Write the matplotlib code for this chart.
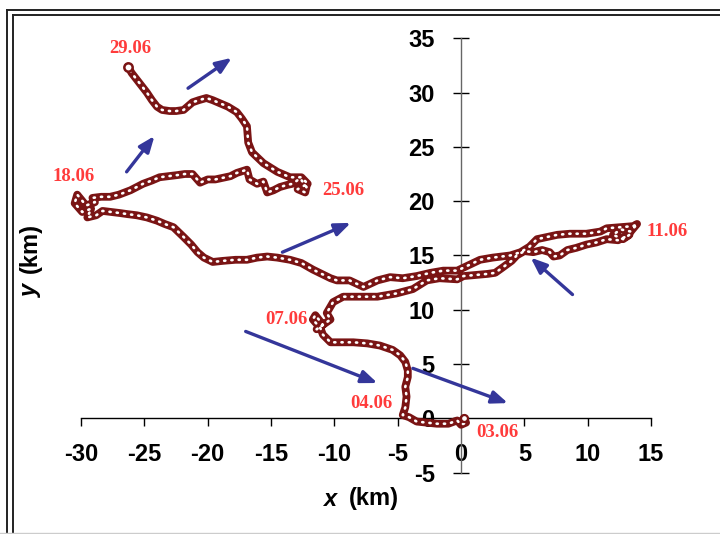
import matplotlib
matplotlib.use("Agg")
import matplotlib.pyplot as plt
from matplotlib.lines import Line2D

# ---- data (km) ----
track_x = [0.2, 0.4, 0.0, -0.3, -1.0, -1.9, -2.7, -3.5, -4.1, -4.6,
           -4.4, -4.3, -4.4, -4.2, -4.2, -4.4, -4.8, -5.4, -6.4, -7.4,
           -8.5, -9.6, -10.3, -10.9, -11.1, -11.7, -11.5, -10.9, -11.4, -10.3,
           -10.6, -10.3, -10.1, -9.3, -8.0, -6.6, -5.1, -3.8, -2.7, -1.7,
           -0.3, 0.2, 1.2, 2.1, 2.7, 3.3, 4.0, 4.4, 5.0, 5.7,
           6.4, 7.0, 7.3, 7.8, 8.4, 9.1, 9.9, 10.7, 11.5, 12.4,
           13.3, 12.8, 12.0, 12.6, 13.4, 13.9, 13.6, 12.6, 11.5, 11.0,
           9.9, 8.6, 7.6, 6.8, 6.0, 5.4, 4.7, 3.9, 2.5, 1.5,
           0.6, -0.3, -1.4, -2.4, -3.5, -4.6, -5.6, -6.6, -7.7, -8.8,
           -9.8, -10.3, -11.0, -11.7, -12.6, -13.5, -14.5, -15.3, -16.1, -16.9,
           -17.8, -18.8, -19.6, -20.3, -20.8, -21.3, -21.9, -22.7, -23.4, -24.0,
           -24.8, -25.6, -26.3, -26.9, -27.6, -28.3, -28.8, -29.5, -29.2, -29.9,
           -30.5, -30.3, -29.6, -28.9, -29.1, -28.4, -27.7, -27.0, -26.1, -25.6,
           -25.1, -24.4, -23.8, -23.1, -22.4, -21.8, -21.2, -20.6, -20.0, -19.4,
           -19.0, -18.2, -17.7, -16.9, -16.7, -16.1, -15.6, -15.3, -14.8, -14.3,
           -13.7, -13.3, -12.7, -12.2, -12.3, -12.9, -12.1, -12.6, -13.5, -14.5,
           -15.6, -16.5, -16.8, -16.9, -17.3, -17.7, -18.4, -19.0, -19.6, -20.1,
           -20.7, -21.2, -21.6, -21.9, -22.5, -23.0, -23.6, -24.0, -24.4, -24.8,
           -25.2, -25.6, -26.0, -26.3]
track_y = [0.0, -0.4, -0.6, -0.2, -0.5, -0.5, -0.4, -0.3, 0.1, 0.3,
           1.0, 2.0, 2.9, 3.8, 4.4, 5.2, 5.8, 6.3, 6.7, 6.9,
           7.0, 7.0, 7.0, 7.7, 8.3, 9.1, 9.5, 8.6, 8.2, 9.1,
           9.7, 10.3, 10.7, 11.2, 11.2, 11.2, 11.5, 11.9, 12.7, 12.9,
           12.8, 13.1, 13.2, 13.3, 13.4, 13.9, 14.5, 15.0, 15.4, 15.3,
           15.5, 15.3, 14.9, 15.0, 15.5, 15.7, 16.0, 16.2, 16.5, 16.4,
           16.9, 16.5, 16.9, 17.4, 17.2, 17.9, 17.7, 17.6, 17.5, 17.2,
           17.0, 17.0, 16.9, 16.7, 16.5, 15.8, 15.3, 15.0, 14.8, 14.6,
           14.1, 13.6, 13.6, 13.4, 13.1, 12.9, 13.0, 12.7, 12.1, 12.7,
           12.7, 12.9, 13.3, 13.7, 14.3, 14.6, 14.8, 14.9, 14.8, 14.6,
           14.6, 14.5, 14.4, 14.8, 15.3, 16.0, 16.7, 17.6, 17.9, 18.2,
           18.5, 18.7, 18.8, 18.9, 19.0, 19.1, 18.7, 18.5, 19.3, 19.0,
           19.8, 20.6, 19.6, 19.9, 20.3, 20.4, 20.4, 20.6, 21.0, 21.3,
           21.6, 21.9, 22.2, 22.3, 22.4, 22.5, 22.5, 21.7, 22.0, 22.0,
           22.1, 22.3, 22.6, 22.9, 22.0, 21.6, 21.8, 20.8, 21.0, 21.3,
           21.5, 21.6, 22.1, 21.3, 20.8, 21.1, 21.6, 22.2, 22.2, 22.7,
           23.5, 24.5, 25.4, 26.9, 27.6, 28.2, 28.7, 29.0, 29.3, 29.5,
           29.3, 29.1, 28.7, 28.4, 28.3, 28.3, 28.4, 28.7, 29.3, 30.0,
           30.6, 31.2, 31.8, 32.4]

date_labels = ["03.06", "04.06", "07.06", "11.06", "18.06", "25.06", "29.06"]
date_x = [2.9, -7.1, -13.8, 16.3, -30.6, -9.3, -26.1]
date_y = [-1.35, 1.4, 9.1, 17.2, 22.3, 21.0, 34.1]

arrow_start_x = [-21.55, -26.4, -14.1, -17.0, -3.8, 8.8]
arrow_start_y = [30.4, 22.7, 15.3, 8.0, 4.6, 11.4]
arrow_end_x = [-18.1, -24.2, -8.7, -6.6, 3.7, 5.5]
arrow_end_y = [33.2, 26.0, 18.0, 3.25, 1.4, 14.8]

x_ticks = [-30, -25, -20, -15, -10, -5, 0, 5, 10, 15]
y_ticks = [-5, 0, 5, 10, 15, 20, 25, 30, 35]

# ---- style ----
TRACK = "#7a1414"
LABEL_RED = "#ff3b3b"
ARROW = "#34369a"

fig = plt.figure(figsize=(7.2, 5.34), dpi=100)
ax = fig.add_axes([0.1125, 0.115, 0.7917, 0.8133])
ax.set_xlim(-30, 15)
ax.set_ylim(-5, 35)

# trajectory: dark band with white dots -> chain of open circles look
ax.plot(track_x, track_y, color=TRACK, lw=5.6, solid_capstyle="round",
        solid_joinstyle="round", zorder=3, clip_on=False)
ax.plot(track_x, track_y, color="white", lw=1.9, dashes=(0.45, 2.3),
        dash_capstyle="round", zorder=4, clip_on=False)
ax.plot(track_x[0], track_y[0], "o", ms=5, mfc="white", mec=TRACK, mew=1.6,
        zorder=5, clip_on=False)
ax.plot(track_x[-1], track_y[-1], "o", ms=6, mfc="white", mec=TRACK, mew=1.8,
        zorder=5, clip_on=False)

for sx, sy, ex, ey in zip(arrow_start_x, arrow_start_y, arrow_end_x, arrow_end_y):
    ax.annotate("", xy=(ex, ey), xytext=(sx, sy),
                arrowprops=dict(arrowstyle="-|>,head_length=0.95,head_width=0.38",
                                color=ARROW, lw=2.4, shrinkA=0, shrinkB=0),
                zorder=6, annotation_clip=False)

for t, x, y in zip(date_labels, date_x, date_y):
    ax.text(x, y, t, color=LABEL_RED, fontsize=13.5, fontweight="bold",
            family="Liberation Serif", ha="center", va="center", zorder=7)

# axes crossing at origin
for s in ["top", "right"]:
    ax.spines[s].set_visible(False)
ax.spines["left"].set_position(("data", 0))
ax.spines["bottom"].set_position(("data", 0))
ax.spines["left"].set_color("#666666")
ax.spines["bottom"].set_color("black")
ax.spines["left"].set_linewidth(1.0)
ax.spines["bottom"].set_linewidth(1.0)
ax.set_xticks(x_ticks)
ax.set_yticks(y_ticks)
ax.set_xticklabels([str(v) for v in x_ticks])
ax.set_yticklabels([str(v) for v in y_ticks])
ax.tick_params(axis="x", direction="out", length=6, width=1, pad=11.5, color="black")
ax.tick_params(axis="y", direction="inout", length=12, width=1, pad=13, color="black")
for lab in ax.get_xticklabels() + ax.get_yticklabels():
    lab.set_fontfamily("Liberation Sans")
    lab.set_fontweight("bold")
    lab.set_fontsize(17)

# axis titles
fig.text(330 / 720, 1 - 499 / 534, "x", fontsize=17, fontweight="bold", style="italic",
         family="Liberation Sans", ha="center", va="center")
fig.text(349 / 720, 1 - 499 / 534, "(km)", fontsize=17, fontweight="bold",
         family="Liberation Sans", ha="left", va="center")
fig.text(30 / 720, 1 - 290 / 534, "y", fontsize=17, fontweight="bold", style="italic",
         family="Liberation Sans", ha="center", va="center", rotation=90)
fig.text(30 / 720, 1 - 273 / 534, "(km)", fontsize=17, fontweight="bold",
         family="Liberation Sans", ha="center", va="bottom", rotation=90)

# double frame
W, H = 720.0, 534.0
frame = dict(color="#222222", lw=1.4, transform=fig.transFigure)
fig.add_artist(Line2D([7 / W, 7 / W], [0, 1 - 10 / H], **frame))
fig.add_artist(Line2D([7 / W, 1], [1 - 10 / H, 1 - 10 / H], **frame))
fig.add_artist(Line2D([13 / W, 13 / W], [0, 1 - 15 / H], **frame))
fig.add_artist(Line2D([13 / W, 1], [1 - 15 / H, 1 - 15 / H], **frame))
fig.add_artist(Line2D([0, 1], [1.5 / H, 1.5 / H], color="#cccccc", lw=1,
                      transform=fig.transFigure))

fig.savefig("out.png", dpi=100)
